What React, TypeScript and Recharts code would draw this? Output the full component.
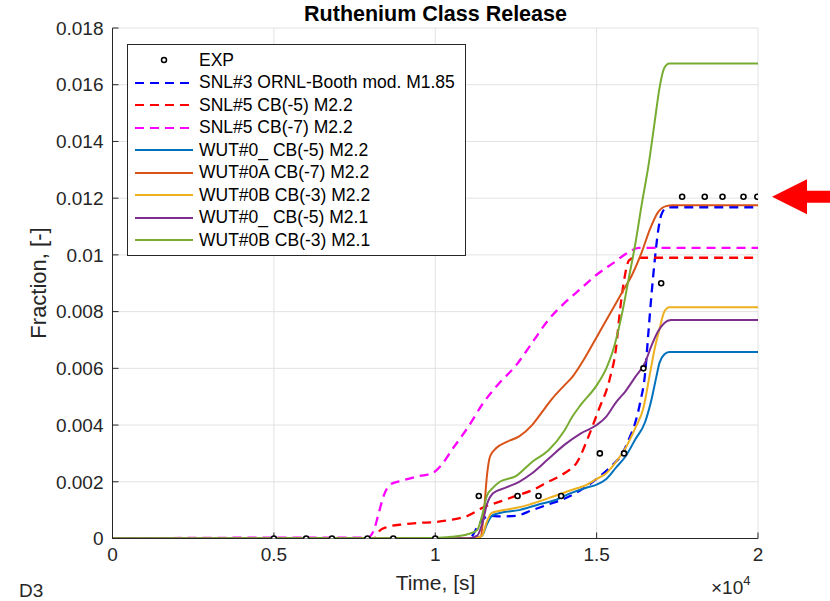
import React from 'react';
import { LineChart, Line, XAxis, YAxis, CartesianGrid, Legend, ReferenceDot } from 'recharts';

const FONT = '"Liberation Sans", Arial, Helvetica, sans-serif';
const AX = '#262626';

const xTicks = [0, 5000, 10000, 15000, 20000];
const yTicks = [0, 0.002, 0.004, 0.006, 0.008, 0.01, 0.012, 0.014, 0.016, 0.018];

const expPts: [number, number][] = [
  [5000, 0], [6000, 0], [6800, 0], [7900, 0], [8700, 0], [10000, 0],
  [11350, 0.0015], [12550, 0.0015], [13200, 0.0015], [13900, 0.0015],
  [15100, 0.003], [15850, 0.003], [16450, 0.006], [17000, 0.009],
  [17650, 0.01205], [18350, 0.01205], [18900, 0.01205], [19550, 0.01205], [19980, 0.01205],
];

const snl3Pts: [number, number][] = [
  [0, 0], [11000, 0], [11150, 0.0001], [11300, 0.0004], [11500, 0.0007], [11700, 0.0008],
  [12000, 0.00078], [12500, 0.0008], [13000, 0.001], [13500, 0.0012], [14000, 0.0014],
  [14500, 0.0017], [15000, 0.0021], [15500, 0.0026], [15800, 0.003], [16000, 0.0035],
  [16200, 0.0041], [16350, 0.0048], [16500, 0.0058], [16600, 0.0072], [16700, 0.0086],
  [16800, 0.0098], [16900, 0.0108], [17000, 0.0114], [17150, 0.01165], [17300, 0.01168], [20000, 0.01168],
];

const snl5m5Pts: [number, number][] = [
  [0, 0], [8100, 0], [8300, 0.0003], [8500, 0.0004], [9000, 0.0005], [9500, 0.00055],
  [10000, 0.00058], [10500, 0.00066], [11000, 0.0008], [11500, 0.0011], [12000, 0.0013],
  [12500, 0.0015], [13000, 0.0017], [13500, 0.002], [14000, 0.0023], [14400, 0.0027],
  [14750, 0.0036], [15050, 0.0045], [15400, 0.0056], [15600, 0.0067], [15720, 0.008],
  [15850, 0.0091], [16000, 0.0098], [16150, 0.0099], [20000, 0.0099],
];

const snl5m7Pts: [number, number][] = [
  [0, 0], [5300, 0.00003], [7900, 0.00003], [8100, 0.0003], [8250, 0.0009], [8400, 0.0015],
  [8600, 0.0019], [9000, 0.00205], [9500, 0.0022], [9900, 0.0023], [10200, 0.0026],
  [10500, 0.0031], [11000, 0.0039], [11500, 0.0048], [12000, 0.0055], [12500, 0.0061],
  [13000, 0.0069], [13500, 0.0077], [14000, 0.0083], [14500, 0.0088], [15000, 0.0093],
  [15500, 0.0097], [16000, 0.0101], [16300, 0.01025], [20000, 0.01025],
];

const wut0m22Pts: [number, number][] = [
  [0, 0], [11200, 0], [11450, 0.0001], [11600, 0.0005], [11750, 0.0008], [12000, 0.0009],
  [12600, 0.001], [13200, 0.0012], [13700, 0.00135], [14200, 0.0016], [14700, 0.0018],
  [15000, 0.0019], [15300, 0.0021], [15600, 0.0025], [15900, 0.0029], [16200, 0.0035],
  [16500, 0.0041], [16700, 0.0049], [16850, 0.0057], [16950, 0.0062], [17100, 0.0065],
  [17250, 0.00658], [20000, 0.00658],
];

const wut0aPts: [number, number][] = [
  [0, 0], [11000, 0], [11400, 0.00005], [11500, 0.0008], [11600, 0.0022], [11700, 0.0029],
  [11900, 0.0032], [12200, 0.0034], [12600, 0.0036], [13000, 0.004], [13400, 0.0046],
  [13600, 0.0049], [14000, 0.0054], [14250, 0.0057], [14600, 0.0063], [15000, 0.0071],
  [15400, 0.0079], [15800, 0.0087], [16100, 0.0093], [16400, 0.0101], [16650, 0.0109],
  [16900, 0.0115], [17150, 0.01172], [17350, 0.01175], [20000, 0.01175],
];

const wut0bm22Pts: [number, number][] = [
  [0, 0], [11200, 0], [11450, 0.0001], [11600, 0.0006], [11750, 0.0009], [12000, 0.00098],
  [12600, 0.0011], [13200, 0.0013], [13700, 0.0015], [14200, 0.0017], [14700, 0.0019],
  [15000, 0.0021], [15300, 0.0023], [15600, 0.0027], [15900, 0.0032], [16200, 0.0039],
  [16450, 0.0046], [16650, 0.0058], [16800, 0.0067], [16950, 0.0074], [17100, 0.008],
  [17250, 0.00815], [20000, 0.00815],
];

const wut0m21Pts: [number, number][] = [
  [0, 0], [11000, 0], [11300, 0.0001], [11450, 0.0005], [11600, 0.0012], [11800, 0.0016],
  [12200, 0.0018], [12600, 0.002], [13000, 0.0023], [13500, 0.0028], [14000, 0.0033],
  [14500, 0.0037], [15000, 0.004], [15300, 0.0043], [15600, 0.0048], [15900, 0.0052],
  [16200, 0.0057], [16500, 0.0062], [16700, 0.0068], [16900, 0.0073], [17100, 0.0076],
  [17300, 0.0077], [20000, 0.0077],
];

const wut0bm21Pts: [number, number][] = [
  [0, 0], [10000, 0.00002], [10500, 0.00006], [11000, 0.00015], [11300, 0.0003], [11450, 0.0008],
  [11600, 0.0015], [11800, 0.0018], [12000, 0.002], [12500, 0.0022], [13000, 0.0027],
  [13500, 0.0031], [14000, 0.0038], [14250, 0.0043], [14500, 0.0047], [15000, 0.0054],
  [15300, 0.006], [15500, 0.0066], [15800, 0.008], [16000, 0.0092], [16200, 0.0104],
  [16400, 0.0118], [16600, 0.0131], [16800, 0.0147], [16950, 0.0159], [17100, 0.0166],
  [17250, 0.01675], [20000, 0.01675],
];

const toPts = (a: [number, number][]) => a.map(([t, v]) => ({ t, v }));

type S = { name: string; pts: [number, number][]; color: string; dash: boolean };
const series: S[] = [
  { name: 'SNL#3 ORNL-Booth mod. M1.85', pts: snl3Pts, color: '#0000FF', dash: true },
  { name: 'SNL#5 CB(-5) M2.2', pts: snl5m5Pts, color: '#FF0000', dash: true },
  { name: 'SNL#5 CB(-7) M2.2', pts: snl5m7Pts, color: '#FF00FF', dash: true },
  { name: 'WUT#0_ CB(-5) M2.2', pts: wut0m22Pts, color: '#0072BD', dash: false },
  { name: 'WUT#0A CB(-7) M2.2', pts: wut0aPts, color: '#D95319', dash: false },
  { name: 'WUT#0B CB(-3) M2.2', pts: wut0bm22Pts, color: '#EDB120', dash: false },
  { name: 'WUT#0_ CB(-5) M2.1', pts: wut0m21Pts, color: '#7E2F8E', dash: false },
  { name: 'WUT#0B CB(-3) M2.1', pts: wut0bm21Pts, color: '#77AC30', dash: false },
];

const DASH = '9 6';

const renderLegend = () => (
  <div
    style={{
      border: `1px solid ${AX}`,
      background: '#fff',
      padding: '4px 10px 3px 6px',
      fontFamily: FONT,
      fontSize: 17.5,
      color: '#000',
      whiteSpace: 'pre',
    }}
  >
    <div style={{ display: 'flex', alignItems: 'center', height: 22.5 }}>
      <svg width={60} height={12} style={{ marginRight: 5 }}>
        <circle cx={30} cy={6} r={2.5} fill="#fff" stroke="#000" strokeWidth={1.5} />
      </svg>
      <span>EXP</span>
    </div>
    {series.map((s) => (
      <div key={s.name} style={{ display: 'flex', alignItems: 'center', height: 22.5 }}>
        <svg width={60} height={12} style={{ marginRight: 5 }}>
          <line x1={1} y1={6} x2={s.dash ? 55 : 59} y2={6} stroke={s.color} strokeWidth={2}
            strokeDasharray={s.dash ? DASH : undefined} />
        </svg>
        <span>{s.name}</span>
      </div>
    ))}
  </div>
);

const Arrow = (p: any) => {
  const { cx, cy } = p;
  if (cx == null || cy == null) return <g />;
  const pts = [
    [cx + 14, cy], [cx + 49, cy - 17.5], [cx + 49, cy - 6], [cx + 74, cy - 6],
    [cx + 74, cy + 6], [cx + 49, cy + 6], [cx + 49, cy + 17.5],
  ].map((q) => q.join(',')).join(' ');
  return <polygon points={pts} fill="#FF0000" />;
};

const noTick = () => <g />;

export default function App() {
  return (
    <div style={{ position: 'absolute', left: 0, top: 0, width: 830, height: 601, background: '#fff', fontFamily: FONT }}>
      <LineChart
        width={830}
        height={601}
        margin={{ top: 28, right: 72, bottom: 2.5, left: 32.5 }}
        style={{ fontFamily: FONT }}
      >
        <CartesianGrid stroke="#e2e2e2" strokeWidth={1} />
        <XAxis
          dataKey="t" type="number" domain={[0, 20000]} ticks={xTicks} interval={0}
          height={60} tickSize={-6} tickMargin={15}
          tickFormatter={(v: number) => String(v / 10000)}
          tick={{ fill: AX, fontSize: 19, fontFamily: FONT }}
          stroke={AX} allowDataOverflow
        />
        <XAxis
          xAxisId="top" orientation="top" dataKey="t" type="number" domain={[0, 20000]}
          ticks={xTicks} interval={0} height={0} tickSize={-6} tick={noTick} stroke={AX}
        />
        <YAxis
          type="number" domain={[0, 0.018]} ticks={yTicks} interval={0} width={80}
          tickSize={-6} tickMargin={15}
          tickFormatter={(v: number) => (v === 0 ? '0' : String(+v.toFixed(3)))}
          tick={{ fill: AX, fontSize: 19, fontFamily: FONT }}
          stroke={AX} allowDataOverflow
        />
        <YAxis
          yAxisId="right" orientation="right" type="number" domain={[0, 0.018]}
          ticks={yTicks} interval={0} width={0} tickSize={-6} tick={noTick} stroke={AX}
        />
        {series.map((s) => (
          <Line
            key={s.name}
            data={toPts(s.pts)}
            dataKey="v"
            name={s.name}
            type="monotone"
            stroke={s.color}
            strokeWidth={s.dash ? 2.3 : 2}
            strokeDasharray={s.dash ? DASH : undefined}
            dot={false}
            isAnimationActive={false}
          />
        ))}
        <Line
          data={toPts(expPts)}
          dataKey="v"
          name="EXP"
          stroke="none"
          strokeWidth={0}
          dot={{ r: 2.5, stroke: '#000', strokeWidth: 1.6, fill: '#fff' }}
          isAnimationActive={false}
        />
        <ReferenceDot x={20000} y={0.01205} ifOverflow="visible" shape={Arrow} />
        <Legend
          layout="vertical" align="center" verticalAlign="middle"
          wrapperStyle={{ left: 127, top: 44, width: 'auto', height: 'auto' }}
          content={renderLegend}
        />
      </LineChart>
      <div style={{ position: 'absolute', left: 113, width: 645, top: 2, textAlign: 'center', fontWeight: 'bold', fontSize: 21.5, color: '#000' }}>
        Ruthenium Class Release
      </div>
      <div style={{ position: 'absolute', left: 113, width: 645, top: 571, textAlign: 'center', fontSize: 21, color: AX }}>
        Time, [s]
      </div>
      <div style={{ position: 'absolute', left: 39, top: 283, width: 0, height: 0 }}>
        <div style={{ position: 'absolute', transform: 'translate(-50%, -50%) rotate(-90deg)', whiteSpace: 'nowrap', fontSize: 22, color: AX }}>
          Fraction, [-]
        </div>
      </div>
      <div style={{ position: 'absolute', left: 19, top: 580, fontSize: 19, color: AX }}>D3</div>
      <div style={{ position: 'absolute', left: 711, top: 577, fontSize: 19, color: AX, whiteSpace: 'nowrap' }}>
        ×10<sup style={{ fontSize: 13, verticalAlign: 'top', position: 'relative', top: -4 }}>4</sup>
      </div>
    </div>
  );
}
